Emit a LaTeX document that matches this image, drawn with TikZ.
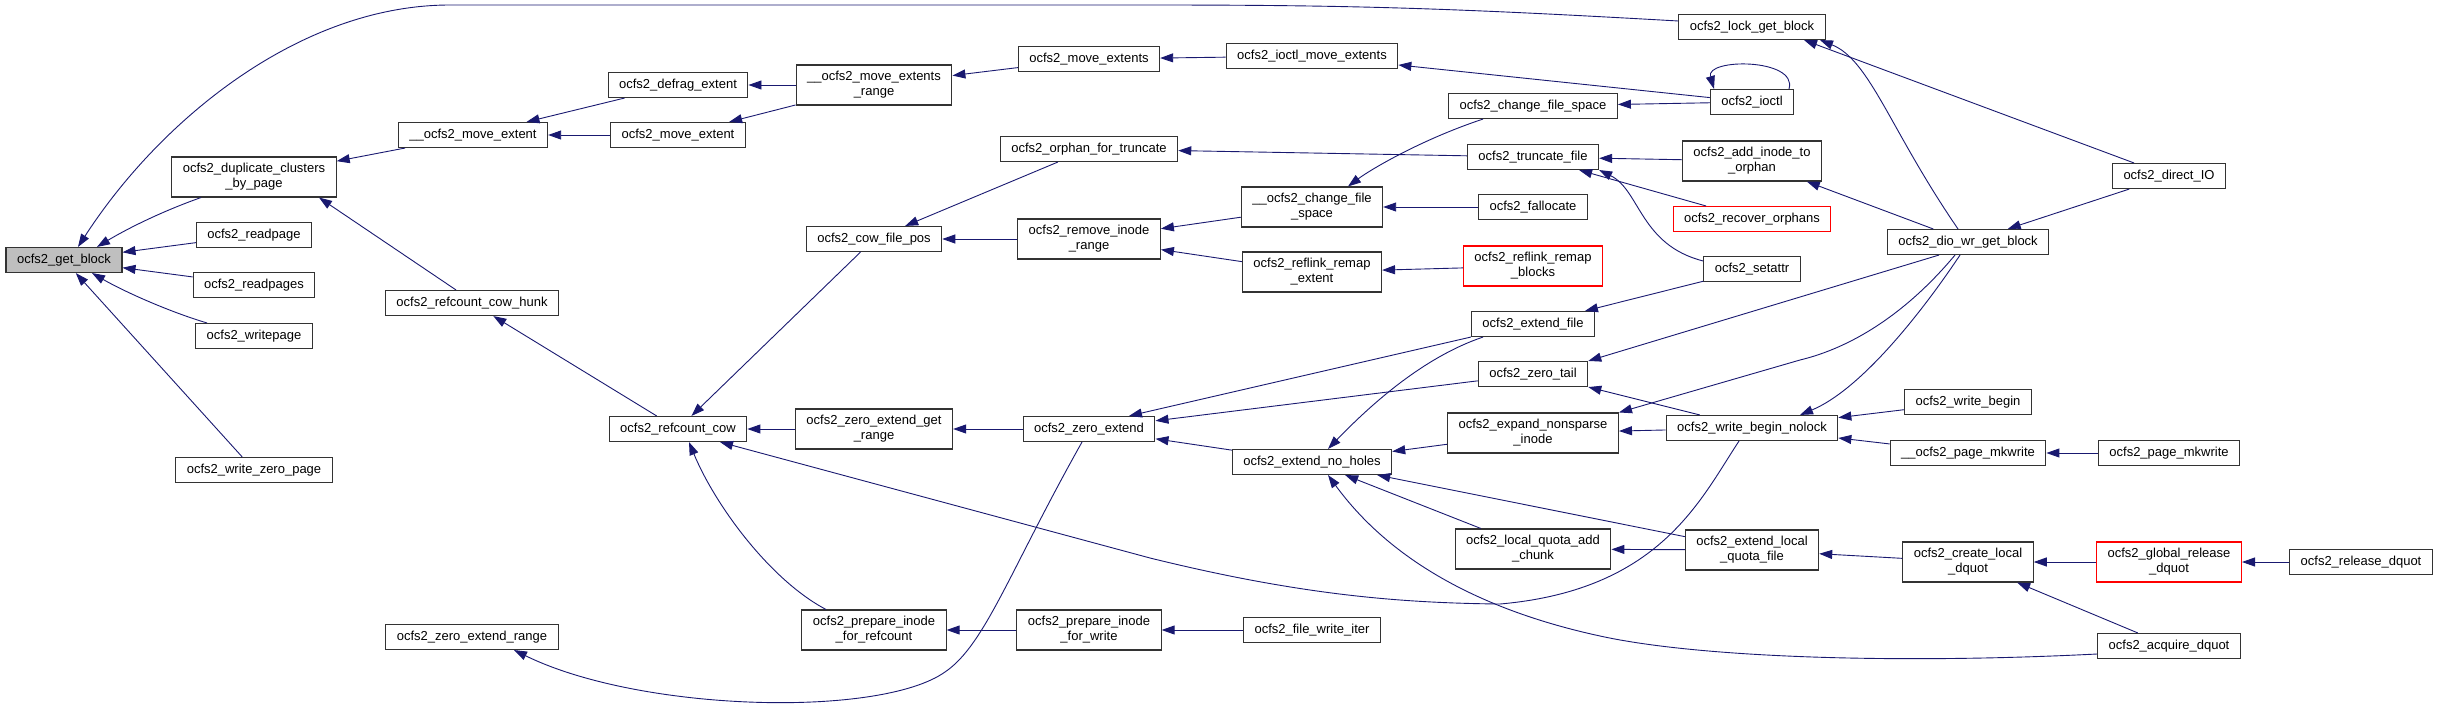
\documentclass[tikz,border=0pt]{standalone}
\usepackage{fontspec}
\setmainfont{Liberation Sans}
\usetikzlibrary{arrows.meta}
\definecolor{edgeblue}{HTML}{191970}
\definecolor{focusgray}{HTML}{BFBFBF}

\begin{document}
\begin{tikzpicture}[x=1pt,y=-1pt,
  fn/.style={draw=black!80,line width=1.1pt,rectangle,inner xsep=11pt,inner ysep=2pt,
    minimum height=25pt,align=center,font=\fontsize{13}{15}\selectfont},
  fntwo/.style={fn,minimum height=40pt},
  trunc/.style={draw=red},
  focus/.style={fill=focusgray},
  call/.style={draw=edgeblue,line width=0.9pt,-{Triangle[length=13pt,width=9pt]}}]
\useasboundingbox (0,0) rectangle (2437,712);

% columns, right to left callers
\node[fn,focus] (getblock) at (64,260) {ocfs2\_get\_block};
\node[fntwo] (dupclusters) at (254,177) {ocfs2\_duplicate\_clusters\\\_by\_page};
\node[fn] (readpage) at (254,235) {ocfs2\_readpage};
\node[fn] (readpages) at (254,285) {ocfs2\_readpages};
\node[fn] (writepage) at (254,336) {ocfs2\_writepage};
\node[fn] (writezeropage) at (254,470) {ocfs2\_write\_zero\_page};
\node[fn] (movextent) at (473,135) {\_\_ocfs2\_move\_extent};
\node[fn] (cowhunk) at (472,303) {ocfs2\_refcount\_cow\_hunk};
\node[fn] (zeroextrange) at (472,637) {ocfs2\_zero\_extend\_range};
\node[fn] (defrag) at (678,85) {ocfs2\_defrag\_extent};
\node[fn] (moveextent) at (678,135) {ocfs2\_move\_extent};
\node[fn] (refcow) at (678,429) {ocfs2\_refcount\_cow};
\node[fntwo] (moveextrange) at (874,85) {\_\_ocfs2\_move\_extents\\\_range};
\node[fn] (cowfilepos) at (874,239) {ocfs2\_cow\_file\_pos};
\node[fntwo] (zeroextgetrange) at (874,429) {ocfs2\_zero\_extend\_get\\\_range};
\node[fntwo] (prepref) at (874,630) {ocfs2\_prepare\_inode\\\_for\_refcount};
\node[fn] (moveextents) at (1089,59) {ocfs2\_move\_extents};
\node[fn] (orphantrunc) at (1089,149) {ocfs2\_orphan\_for\_truncate};
\node[fntwo] (removerange) at (1089,239) {ocfs2\_remove\_inode\\\_range};
\node[fn] (zeroextend) at (1089,429) {ocfs2\_zero\_extend};
\node[fntwo] (prepwrite) at (1089,630) {ocfs2\_prepare\_inode\\\_for\_write};
\node[fn] (ioctlmove) at (1312,56) {ocfs2\_ioctl\_move\_extents};
\node[fntwo] (chgspace) at (1312,207) {\_\_ocfs2\_change\_file\\\_space};
\node[fntwo] (reflinkext) at (1312,272) {ocfs2\_reflink\_remap\\\_extent};
\node[fn] (extnoholes) at (1312,462) {ocfs2\_extend\_no\_holes};
\node[fn] (writeiter) at (1312,630) {ocfs2\_file\_write\_iter};
\node[fn] (changespace) at (1533,106) {ocfs2\_change\_file\_space};
\node[fn] (truncfile) at (1533,157) {ocfs2\_truncate\_file};
\node[fn] (fallocate) at (1533,207) {ocfs2\_fallocate};
\node[fntwo,trunc] (reflinkblocks) at (1533,266) {ocfs2\_reflink\_remap\\\_blocks};
\node[fn] (extfile) at (1533,324) {ocfs2\_extend\_file};
\node[fn] (zerotail) at (1533,374) {ocfs2\_zero\_tail};
\node[fntwo] (expandinode) at (1533,433) {ocfs2\_expand\_nonsparse\\\_inode};
\node[fntwo] (quotachunk) at (1533,549) {ocfs2\_local\_quota\_add\\\_chunk};
\node[fn] (lockgetblock) at (1752,27) {ocfs2\_lock\_get\_block};
\node[fn] (ioctl) at (1752,102) {ocfs2\_ioctl};
\node[fntwo] (addorphan) at (1752,161) {ocfs2\_add\_inode\_to\\\_orphan};
\node[fn,trunc] (recoverorphans) at (1752,219) {ocfs2\_recover\_orphans};
\node[fn] (setattr) at (1752,269) {ocfs2\_setattr};
\node[fn] (wbnolock) at (1752,428) {ocfs2\_write\_begin\_nolock};
\node[fntwo] (extquotafile) at (1752,550) {ocfs2\_extend\_local\\\_quota\_file};
\node[fn] (diowr) at (1968,242) {ocfs2\_dio\_wr\_get\_block};
\node[fn] (writebegin) at (1968,402) {ocfs2\_write\_begin};
\node[fn] (pagemkwriteint) at (1968,453) {\_\_ocfs2\_page\_mkwrite};
\node[fntwo] (createdquot) at (1968,562) {ocfs2\_create\_local\\\_dquot};
\node[fn] (directio) at (2169,176) {ocfs2\_direct\_IO};
\node[fn] (pagemkwrite) at (2169,453) {ocfs2\_page\_mkwrite};
\node[fntwo,trunc] (globalrelease) at (2169,562) {ocfs2\_global\_release\\\_dquot};
\node[fn] (acquiredquot) at (2169,646) {ocfs2\_acquire\_dquot};
\node[fn] (releasedquot) at (2361,562) {ocfs2\_release\_dquot};

% calls into ocfs2_get_block
\draw[call] ([yshift=6pt]lockgetblock.west) .. controls (1450,8) and (1350,5) .. (1150,5) -- (450,5)
  .. controls (300,5) and (160,120) .. ([xshift=14pt]getblock.north);
\draw[call] ([xshift=-53pt]dupclusters.south) .. controls (160,212) and (125,230) .. ([xshift=33pt]getblock.north);
\draw[call] (readpage) -- (getblock);
\draw[call] (readpages) -- (getblock);
\draw[call] ([xshift=-47pt]writepage.north) .. controls (170,312) and (125,292) .. ([xshift=28pt]getblock.south);
\draw[call] (writezeropage) -- (getblock);
\draw[call] (movextent) -- (dupclusters);
\draw[call] ([xshift=-16pt]cowhunk.north) -- ([xshift=65pt]dupclusters.south);
\draw[call] (defrag) -- (movextent);
\draw[call] (moveextent) -- (movextent);
\draw[call] (moveextrange) -- (defrag);
\draw[call] (moveextrange) -- (moveextent);
\draw[call] (moveextents) -- (moveextrange);
\draw[call] (ioctlmove) -- (moveextents);
\draw[call] (ioctl) -- (ioctlmove);
\draw[call] ([xshift=37pt]ioctl.north) .. controls (1798,58) and (1705,58) .. ([xshift=-38pt]ioctl.north); % recursion
% refcount path
\draw[call] (refcow) -- (cowhunk);
\draw[call] (cowfilepos) -- (refcow);
\draw[call] (zeroextgetrange) -- (refcow);
\draw[call] ([xshift=-48pt]prepref.north) .. controls (770,580) and (715,505) .. ([xshift=11pt]refcow.south);
\draw[call] ([xshift=-13pt]wbnolock.south) .. controls (1700,500) and (1660,590) .. (1500,604)
  .. controls (1400,603) and (1300,595) .. (1150,558) -- ([xshift=42pt]refcow.south);
\draw[call] (orphantrunc) -- (cowfilepos);
\draw[call] (removerange) -- (cowfilepos);
\draw[call] (truncfile) -- (orphantrunc);
\draw[call] (chgspace) -- (removerange);
\draw[call] (reflinkext) -- (removerange);
\draw[call] ([xshift=-50pt]changespace.south) .. controls (1420,140) and (1370,170) .. ([xshift=36pt]chgspace.north);
\draw[call] (fallocate) -- (chgspace);
\draw[call] (ioctl) -- (changespace);
\draw[call] (reflinkblocks) -- (reflinkext);
\draw[call] (addorphan) -- (truncfile);
\draw[call] (recoverorphans) -- (truncfile);
\draw[call] ([yshift=8pt]setattr.west) .. controls (1640,245) and (1640,190) .. (truncfile.south east);
\draw[call] (diowr) -- (addorphan);
\draw[call] (directio) -- ([xshift=52pt]lockgetblock.south);
\draw[call] ([xshift=-10pt]diowr.north) .. controls (1890,130) and (1870,60) .. ([xshift=68pt]lockgetblock.south);
\draw[call] (directio) -- (diowr);
% zero extend path
\draw[call] (zeroextend) -- (zeroextgetrange);
\draw[call] ([xshift=-7pt]zeroextend.south) .. controls (1010,570) and (985,645) .. (945,672)
  .. controls (880,718) and (640,712) .. ([xshift=42pt]zeroextrange.south);
\draw[call] (extfile.south west) -- ([xshift=40pt]zeroextend.north);
\draw[call] (zerotail) -- (zeroextend);
\draw[call] (extnoholes) -- (zeroextend);
\draw[call] (setattr) -- (extfile);
\draw[call] ([xshift=-50pt]extfile.south) .. controls (1430,355) and (1380,395) .. ([xshift=16pt]extnoholes.north);
\draw[call] (expandinode) -- (extnoholes);
\draw[call] (quotachunk) -- (extnoholes);
\draw[call] (extquotafile) -- (extnoholes);
\draw[call] ([yshift=-8pt]acquiredquot.west) .. controls (1900,664) and (1700,658) .. (1600,636)
  .. controls (1480,610) and (1390,560) .. ([xshift=16pt]extnoholes.south);
\draw[call] ([xshift=-29pt]diowr.south) -- (zerotail.north east);
\draw[call] (wbnolock) -- (zerotail.south east);
\draw[call] ([xshift=-13pt]diowr.south) .. controls (1905,315) and (1850,348) .. (1800,360) -- (expandinode.north east);
\draw[call] (wbnolock) -- (expandinode);
\draw[call] ([xshift=-8pt]diowr.south) .. controls (1920,315) and (1860,390) .. ([xshift=48pt]wbnolock.north);
\draw[call] (writebegin) -- (wbnolock);
\draw[call] (pagemkwriteint) -- (wbnolock);
\draw[call] (pagemkwrite) -- (pagemkwriteint);
% quota path
\draw[call] (extquotafile) -- (quotachunk);
\draw[call] (createdquot) -- (extquotafile);
\draw[call] (globalrelease) -- (createdquot);
\draw[call] (acquiredquot) -- (createdquot);
\draw[call] (releasedquot) -- (globalrelease);
\draw[call] (prepwrite) -- (prepref);
\draw[call] (writeiter) -- (prepwrite);
\end{tikzpicture}
\end{document}
